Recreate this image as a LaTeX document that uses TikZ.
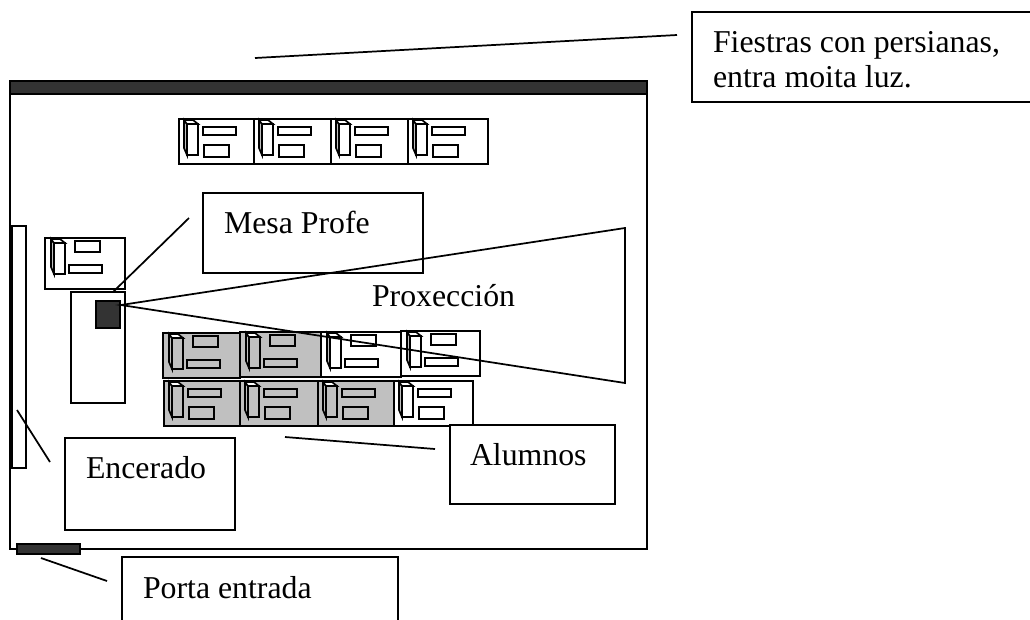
\documentclass[tikz,border=0pt]{standalone}
\usepackage{fontspec}
\setmainfont{Liberation Serif}
\definecolor{darkfill}{HTML}{333333}
\definecolor{deskgrey}{HTML}{C0C0C0}
\tikzset{
  x=0.75pt,y=-0.75pt,
  ln/.style={draw=black,line width=1.3pt},
  thin ln/.style={draw=black,line width=1.25pt},
  label box/.style={ln,fill=white,rectangle,inner sep=0pt,outer sep=0pt,anchor=north west},
  label text/.style={inner sep=0pt,outer sep=0pt,anchor=base west,font=\fontsize{23.85}{26}\selectfont},
  dark/.style={ln,fill=darkfill},
  desk/.style={thin ln,rectangle,inner sep=0pt,outer sep=0pt,anchor=north west},
}
\newcommand{\towerpart}[3]{%
  \draw[thin ln,fill=#3] (#1,#2) rectangle ++(11,31);
  \draw[thin ln,fill=deskgrey] (#1,#2) -- ++(-3,-4) -- ++(0,28) -- ++(3,7) -- cycle;
  \draw[thin ln,fill=white] (#1,#2) -- ++(-3,-4) -- ++(9,0) -- ++(5,4) -- cycle;
}
\newcommand{\deskA}[6]{%
  \node[desk,fill=#6,minimum width=#4*0.75pt,minimum height=#5*0.75pt] (#1) at (#2,#3) {};
  \begin{scope}[shift={(#2,#3)}]
    \towerpart{8}{5}{#6}
    \draw[thin ln,fill=#6] (24,8) rectangle ++(33,8);
    \draw[thin ln,fill=#6] (25,26) rectangle ++(25,12);
  \end{scope}
}
\newcommand{\deskB}[6]{%
  \node[desk,fill=#6,minimum width=#4*0.75pt,minimum height=#5*0.75pt] (#1) at (#2,#3) {};
  \begin{scope}[shift={(#2,#3)}]
    \towerpart{9}{5}{#6}
    \draw[thin ln,fill=#6] (30,3) rectangle ++(25,11);
    \draw[thin ln,fill=#6] (24,27) rectangle ++(33,8);
  \end{scope}
}
\begin{document}
\begin{tikzpicture}
\clip (0,0) rectangle (1030,619);
\fill[white] (0,0) rectangle (1030,619);

% room
\node[label box,minimum width=637*0.75pt,minimum height=461*0.75pt] (room) at (10,88) {};
\node[label box,dark,minimum width=637*0.75pt,minimum height=13*0.75pt,line width=1.6pt] (window) at (10,81) {};
\node[label box,dark,minimum width=63*0.75pt,minimum height=10*0.75pt] (door) at (17,544) {};
\node[label box,minimum width=14*0.75pt,minimum height=242*0.75pt] (board) at (12,226) {};

% top row of desks
\deskA{d1}{179}{119}{75}{45}{white}
\deskA{d2}{254}{119}{77}{45}{white}
\deskA{d3}{331}{119}{77}{45}{white}
\deskA{d4}{408}{119}{80}{45}{white}

% teacher
\deskB{dt}{45}{238}{80}{51}{white}
\node[label box,minimum width=54*0.75pt,minimum height=111*0.75pt] (table) at (71,292) {};
\node[label box,dark,minimum width=24*0.75pt,minimum height=27*0.75pt] (proj) at (96,301) {};

% student rows
\deskA{r1}{164}{381}{76}{45}{deskgrey}
\deskA{r2}{240}{381}{78}{45}{deskgrey}
\deskA{r3}{318}{381}{76}{45}{deskgrey}
\deskA{r4}{394}{381}{79}{45}{white}
\deskB{u1}{163}{333}{77}{45}{deskgrey}
\deskB{u2}{240}{332}{81}{45}{deskgrey}
\deskB{u3}{321}{332}{80}{45}{white}
\deskB{u4}{401}{331}{79}{45}{white}

% label boxes
\node[label box,minimum width=220*0.75pt,minimum height=80*0.75pt] (mesabox) at (203,193) {};
\node[label box,minimum width=170*0.75pt,minimum height=92*0.75pt] (encbox) at (65,438) {};
\node[label box,minimum width=165*0.75pt,minimum height=79*0.75pt] (alubox) at (450,425) {};
\node[label box,minimum width=276*0.75pt,minimum height=80*0.75pt] (portabox) at (122,557) {};
\node[label box,minimum width=400*0.75pt,minimum height=90*0.75pt] (fiebox) at (692,12) {};

% projection beam
\coordinate (beamA) at (625,228);
\coordinate (beamB) at (625,383);
\coordinate (beamO) at (121,305);
\draw[ln,line join=miter] (beamO) -- (beamA) -- (beamB) -- cycle;

% leader lines
\coordinate (c1a) at (255,58);   \coordinate (c1b) at (677,35);
\coordinate (c2a) at (189,218);  \coordinate (c2b) at (113,292);
\coordinate (c3a) at (17,410);   \coordinate (c3b) at (50,462);
\coordinate (c4a) at (285,437);  \coordinate (c4b) at (435,449);
\coordinate (c5a) at (41,558);   \coordinate (c5b) at (107,581);
\draw[ln] (c1a) -- (c1b);
\draw[ln] (c2a) -- (c2b);
\draw[ln] (c3a) -- (c3b);
\draw[ln] (c4a) -- (c4b);
\draw[ln] (c5a) -- (c5b);

% texts
\node[label text] (tfie1) at (713,52) {Fiestras con persianas,};
\node[label text] (tfie2) at (713,87) {entra moita luz.};
\node[label text] (tmesa) at (224,233) {Mesa Profe};
\node[label text] (tprox) at (372,306) {Proxección};
\node[label text] (talu) at (470,465) {Alumnos};
\node[label text] (tenc) at (86,478) {Encerado};
\node[label text] (tpor) at (143,598) {Porta entrada};
\end{tikzpicture}
\end{document}
